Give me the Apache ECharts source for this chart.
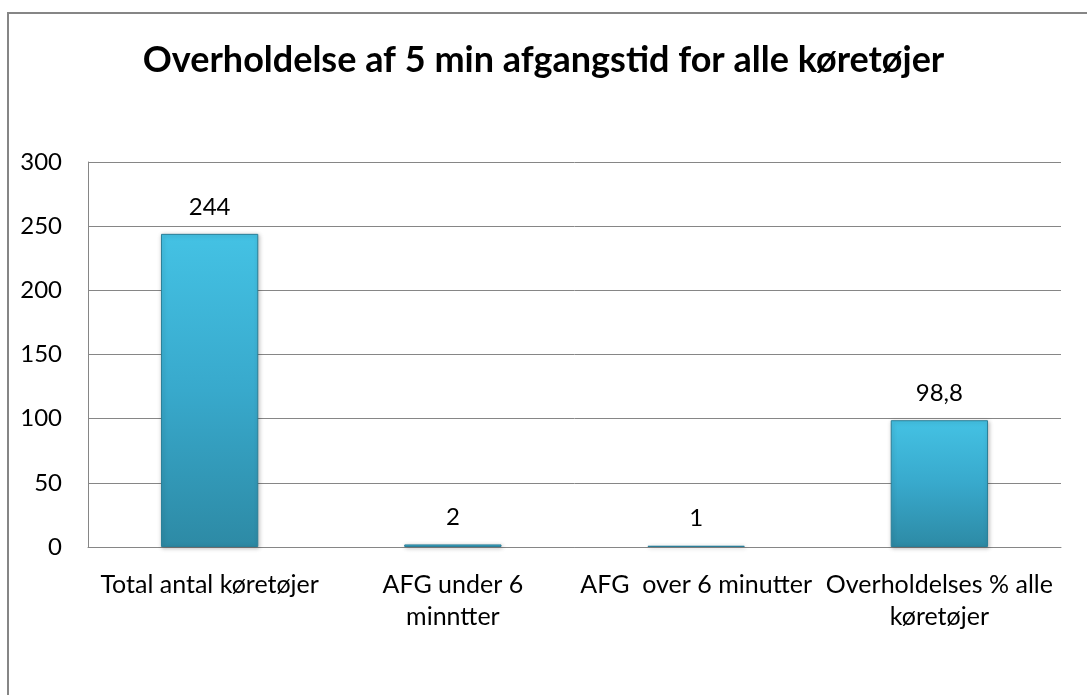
<!DOCTYPE html>
<html>
<head>
<meta charset="utf-8">
<script src="https://cdn.jsdelivr.net/npm/echarts@6/dist/echarts.min.js"></script>
<style>
  html, body { margin: 0; padding: 0; background: #fff; }
  #chart { width: 1087px; height: 695px; }
</style>
</head>
<body>
<div id="chart"></div>
<script>
'use strict';

const categories = [
  'Total antal køretøjer',
  'AFG under 6\nminntter',
  'AFG  over 6 minutter',
  'Overholdelses % alle\nkøretøjer'
];
const values = [244, 2, 1, 98.8];
const yTicks = [0, 50, 100, 150, 200, 250, 300];

const myChart = echarts.init(document.getElementById('chart'));

const font = 'Lato, "Open Sans", sans-serif';

const option = {
  animation: false,
  backgroundColor: '#fff',
  textStyle: { fontFamily: font },
  graphic: [{
    type: 'rect',
    shape: { x: 8, y: 13, width: 1300, height: 900 },
    style: { fill: 'none', stroke: '#868686', lineWidth: 2 },
    silent: true
  }],
  title: {
    text: 'Overholdelse af 5 min afgangstid for alle køretøjer',
    left: 'center',
    top: 37,
    textStyle: { fontFamily: font, fontSize: 36, fontWeight: 'bold', color: '#000' }
  },
  grid: { left: 88, right: 26, top: 162, bottom: 148, containLabel: false },
  xAxis: {
    type: 'category',
    data: categories,
    axisLine: { lineStyle: { color: '#868686', width: 1 } },
    axisTick: { show: false },
    axisLabel: {
      interval: 0,
      margin: 22,
      fontSize: 25,
      lineHeight: 32,
      color: '#000',
      fontFamily: font
    }
  },
  yAxis: {
    type: 'value',
    min: yTicks[0],
    max: yTicks[yTicks.length - 1],
    interval: 50,
    axisLine: { show: true, lineStyle: { color: '#868686', width: 1 } },
    axisTick: { show: false },
    splitLine: { lineStyle: { color: '#868686', width: 1 } },
    axisLabel: {
      margin: 26,
      fontSize: 24,
      color: '#000',
      fontFamily: font
    }
  },
  series: [{
    type: 'bar',
    data: values,
    barWidth: '40%',
    itemStyle: {
      color: new echarts.graphic.LinearGradient(0, 0, 0, 1, [
        { offset: 0, color: '#44c2e4' },
        { offset: 0.5, color: '#38a9cc' },
        { offset: 1, color: '#2d8aa5' }
      ]),
      borderColor: '#2b7f98',
      borderWidth: 1,
      shadowColor: 'rgba(0,0,0,0.25)',
      shadowBlur: 4,
      shadowOffsetX: 1,
      shadowOffsetY: 1
    },
    label: {
      show: true,
      position: 'top',
      distance: 15,
      fontSize: 24,
      color: '#000',
      fontFamily: font,
      formatter: (p) => String(p.value).replace('.', ',')
    }
  }]
};

myChart.setOption(option);
</script>
</body>
</html>
